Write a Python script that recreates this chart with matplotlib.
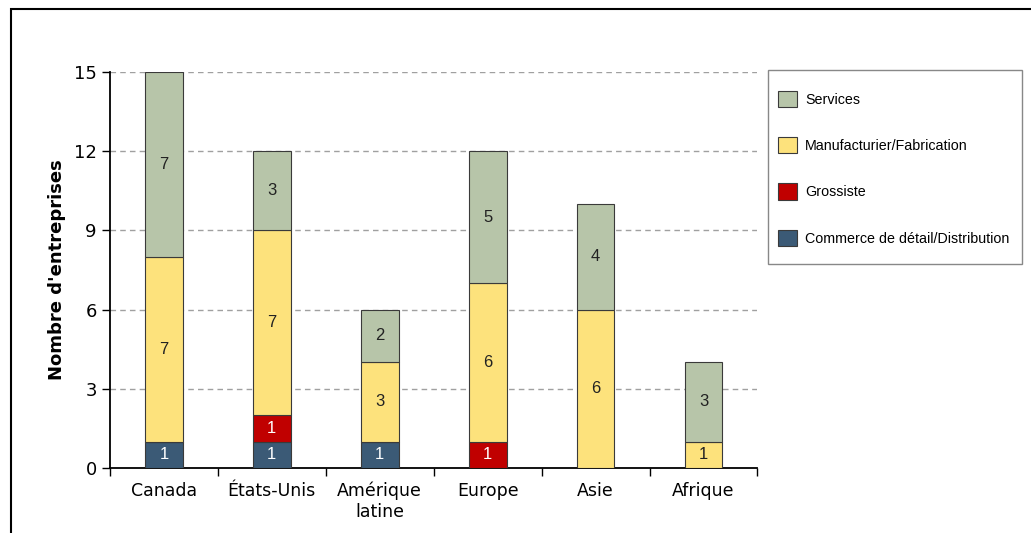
import numpy as np
import matplotlib.pyplot as plt
from matplotlib.patches import Rectangle

regions = ['Canada', 'États-Unis', 'Amérique\nlatine', 'Europe', 'Asie', 'Afrique']
commerce = [1, 1, 1, 0, 0, 0]
grossiste = [0, 1, 0, 1, 0, 0]
manufacturier = [7, 7, 3, 6, 6, 1]
services = [7, 3, 2, 5, 4, 3]

series = [
    ('Commerce de détail/Distribution', commerce, '#3b5a76', 'white'),
    ('Grossiste', grossiste, '#c00000', 'white'),
    ('Manufacturier/Fabrication', manufacturier, '#fde27c', '#222222'),
    ('Services', services, '#b7c5a9', '#222222'),
]

plt.rcParams['font.family'] = ['DejaVu Sans']
narrow = ['Liberation Sans', 'DejaVu Sans']

W, H = 1031, 533
fig = plt.figure(figsize=(W / 100, H / 100), dpi=100)
ax = fig.add_axes([0.1067, 0.122, 0.628, 0.743])

x = np.arange(len(regions))
bottom = np.zeros(len(regions))
handles = []
for name, vals, color, tcolor in series:
    vals = np.array(vals, dtype=float)
    bars = ax.bar(x, vals, width=0.35, bottom=bottom, color=color,
                  edgecolor='#3a3a3a', linewidth=0.8, label=name, zorder=3)
    for xi, b, v in zip(x, bottom, vals):
        if v > 0:
            ax.text(xi, b + v / 2, f'{int(v)}', ha='center', va='center',
                    fontsize=12, color=tcolor, zorder=4, family=narrow)
    handles.append(bars)
    bottom += vals

ax.set_xlim(-0.5, len(regions) - 0.5)
ax.set_ylim(0, 15)
ax.set_yticks(np.arange(0, 16, 3))
ax.tick_params(axis='y', labelsize=13, length=6, width=1, direction='out')
ax.set_xticks(x)
ax.set_xticklabels(regions, fontsize=12.5)
ax.tick_params(axis='x', length=0, pad=10)
# boundary ticks between categories
ax.set_xticks(np.arange(-0.5, len(regions), 1), minor=True)
ax.tick_params(axis='x', which='minor', length=6, width=1, direction='out')

for y in np.arange(3, 16, 3):
    ax.axhline(y, color='#a0a0a0', linestyle=(0, (4, 3)), linewidth=1, zorder=1)

for s in ['top', 'right']:
    ax.spines[s].set_visible(False)
ax.spines['left'].set_linewidth(1.3)
ax.spines['bottom'].set_linewidth(1.3)

ax.set_ylabel("Nombre d'entreprises", fontsize=13, fontweight='bold', labelpad=6)

# legend entries without frame; the box is drawn separately
fig.legend(handles[::-1], [s[0] for s in series][::-1],
           loc='upper left', bbox_to_anchor=(778 / W, 1 - 91 / H),
           borderaxespad=0, borderpad=0, prop={'family': narrow, 'size': 10.3},
           frameon=False, handlelength=1.35, handleheight=1.35,
           labelspacing=2.11, handletextpad=0.55)
fig.patches.append(Rectangle((768 / W, 1 - 264 / H), 254 / W, 194 / H,
                             transform=fig.transFigure, fill=False,
                             edgecolor='#888888', linewidth=1))

# outer frame
fig.patches.append(Rectangle((11 / W, -0.1), 1.2, 1 - 9 / H + 0.1,
                             transform=fig.transFigure, fill=False,
                             edgecolor='black', linewidth=1.5))

fig.savefig('out.png', dpi=100)
